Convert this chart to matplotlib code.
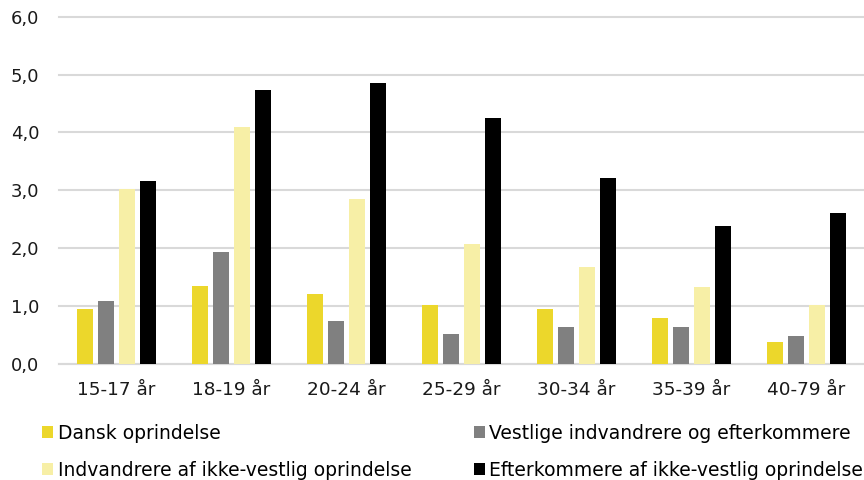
import matplotlib.pyplot as plt
import numpy as np

categories = ["15-17 år", "18-19 år", "20-24 år", "25-29 år", "30-34 år", "35-39 år", "40-79 år"]
series_names = ["Dansk oprindelse",
                "Vestlige indvandrere og efterkommere",
                "Indvandrere af ikke-vestlig oprindelse",
                "Efterkommere af ikke-vestlig oprindelse"]
dansk = [0.94, 1.35, 1.21, 1.02, 0.95, 0.79, 0.37]
vestlige = [1.09, 1.94, 0.74, 0.51, 0.63, 0.63, 0.48]
indvandrere = [3.02, 4.10, 2.85, 2.08, 1.68, 1.32, 1.02]
efterkommere = [3.16, 4.74, 4.85, 4.25, 3.21, 2.39, 2.60]
colors = ["#ECD72B", "#808080", "#F7EFA6", "#000000"]

plt.rcParams['font.family'] = ['DejaVu Sans']
fig = plt.figure(figsize=(8.64, 4.8), dpi=100)
ax = fig.add_axes([0.068, 0.242, 0.932, 0.723])

x = np.arange(len(categories))
width = 0.14
step = 0.183
bars = []
for i, (vals, c) in enumerate(zip([dansk, vestlige, indvandrere, efterkommere], colors)):
    b = ax.bar(x + (i - 1.5) * step, vals, width, color=c, label=series_names[i], zorder=3)
    bars.append(b)

ax.set_xlim(-0.5, len(categories) - 0.5)
ax.set_ylim(0, 6)
ax.set_yticks(np.arange(0, 6.1, 1))
ax.set_yticklabels([f"{v:.1f}".replace(".", ",") for v in np.arange(0, 6.1, 1)])
ax.set_xticks(x)
ax.set_xticklabels(categories)
ax.tick_params(axis='both', length=0, labelsize=13, colors='#1a1a1a')
ax.tick_params(axis='x', pad=12, labelsize=13.3)
ax.tick_params(axis='y', pad=14)
ax.grid(axis='y', color='#d9d9d9', linewidth=1.5, zorder=0)
for gl in ax.get_ygridlines():
    gl.set_clip_on(False)
for s in ['top', 'right', 'left']:
    ax.spines[s].set_visible(False)
ax.spines['bottom'].set_color('#d9d9d9')
ax.spines['bottom'].set_linewidth(1.5)

order = [0, 2, 1, 3]
fig.legend([bars[i] for i in order], [series_names[i] for i in order],
           ncol=2, loc='upper left', bbox_to_anchor=(0.0486, 0.117),
           frameon=False, fontsize=13.5, handlelength=0.6, handleheight=0.6,
           handletextpad=0.25, labelspacing=0.95, columnspacing=3.3,
           borderpad=0, borderaxespad=0)

fig.savefig("out.png", dpi=100)
